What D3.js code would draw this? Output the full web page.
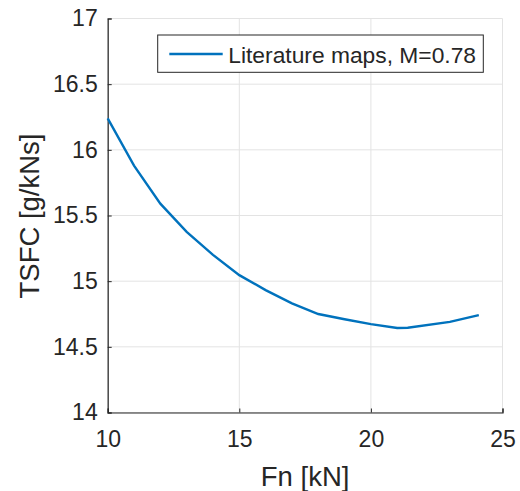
<!DOCTYPE html>
<html><head><meta charset="utf-8">
<script src="https://cdn.jsdelivr.net/npm/d3@7"></script>
<style>body{margin:0;background:#fff;} text{font-family:"Liberation Sans",Arial,sans-serif;fill:#262626;}</style>
</head><body>
<svg id="c" width="520" height="491"></svg>
<script>
const fn = [10, 11, 12, 13, 14, 15, 16, 17, 18, 19, 20, 21, 21.4, 23, 24.1];
const tsfc = [16.24, 15.88, 15.59, 15.375, 15.2, 15.046, 14.932, 14.831, 14.75, 14.71, 14.673, 14.643, 14.645, 14.69, 14.742];
const xTicks = [10, 15, 20, 25];
const yTicks = [14, 14.5, 15, 15.5, 16, 16.5, 17];
const seriesName = "Literature maps, M=0.78";
const xLabel = "Fn [kN]";
const yLabel = "TSFC [g/kNs]";

const svg = d3.select("#c");
const L = 107.7, R = 502.5, T = 18.5, B = 412.5;
const x = d3.scaleLinear().domain([10, 25]).range([L, R]);
const y = d3.scaleLinear().domain([14, 17]).range([B, T]);

// grid
const g = svg.append("g");
g.selectAll(".gx").data(xTicks).join("line")
  .attr("x1", d => x(d)).attr("x2", d => x(d)).attr("y1", T).attr("y2", B)
  .attr("stroke", "#e3e3e3").attr("stroke-width", 1);
g.selectAll(".gy").data(yTicks).join("line")
  .attr("x1", L).attr("x2", R).attr("y1", d => y(d)).attr("y2", d => y(d))
  .attr("stroke", "#e3e3e3").attr("stroke-width", 1);

// axes
const xa = svg.append("g").attr("transform", `translate(0,${B})`)
  .call(d3.axisBottom(x).tickValues(xTicks).tickSize(-4).tickPadding(14).tickFormat(d3.format("d")));
const ya = svg.append("g").attr("transform", `translate(${L},0)`)
  .call(d3.axisLeft(y).tickValues(yTicks).tickSize(-4).tickPadding(10).tickFormat(d => String(d)));
[xa, ya].forEach(a => {
  a.select(".domain").attr("stroke", "#262626").attr("stroke-width", 1.2);
  a.selectAll(".tick line").attr("stroke", "#262626");
  a.selectAll(".tick text").attr("font-size", 23).attr("fill", "#262626");
});
xa.selectAll(".tick text").attr("y", 34).attr("dy", "0");

// line
svg.append("path").datum(fn.map((d, i) => [d, tsfc[i]]))
  .attr("d", d3.line().x(d => x(d[0])).y(d => y(d[1])))
  .attr("fill", "none").attr("stroke", "#0072BD").attr("stroke-width", 2.4);

// labels
svg.append("text").attr("x", (L + R) / 2).attr("y", 486).attr("text-anchor", "middle")
  .attr("font-size", 27.5).text(xLabel);
svg.append("text").attr("transform", `translate(38.5,216) rotate(-90)`)
  .attr("text-anchor", "middle").attr("font-size", 27.5).text(yLabel);

// legend
const lg = svg.append("g");
lg.append("rect").attr("x", 157.7).attr("y", 35).attr("width", 325.6).attr("height", 37.3)
  .attr("fill", "#fff").attr("stroke", "#262626").attr("stroke-width", 1);
lg.append("line").attr("x1", 169.3).attr("x2", 222.7).attr("y1", 54).attr("y2", 54)
  .attr("stroke", "#0072BD").attr("stroke-width", 2.4);
lg.append("text").attr("x", 228.3).attr("y", 63.3).attr("font-size", 22.8).text(seriesName);
</script>
</body></html>
